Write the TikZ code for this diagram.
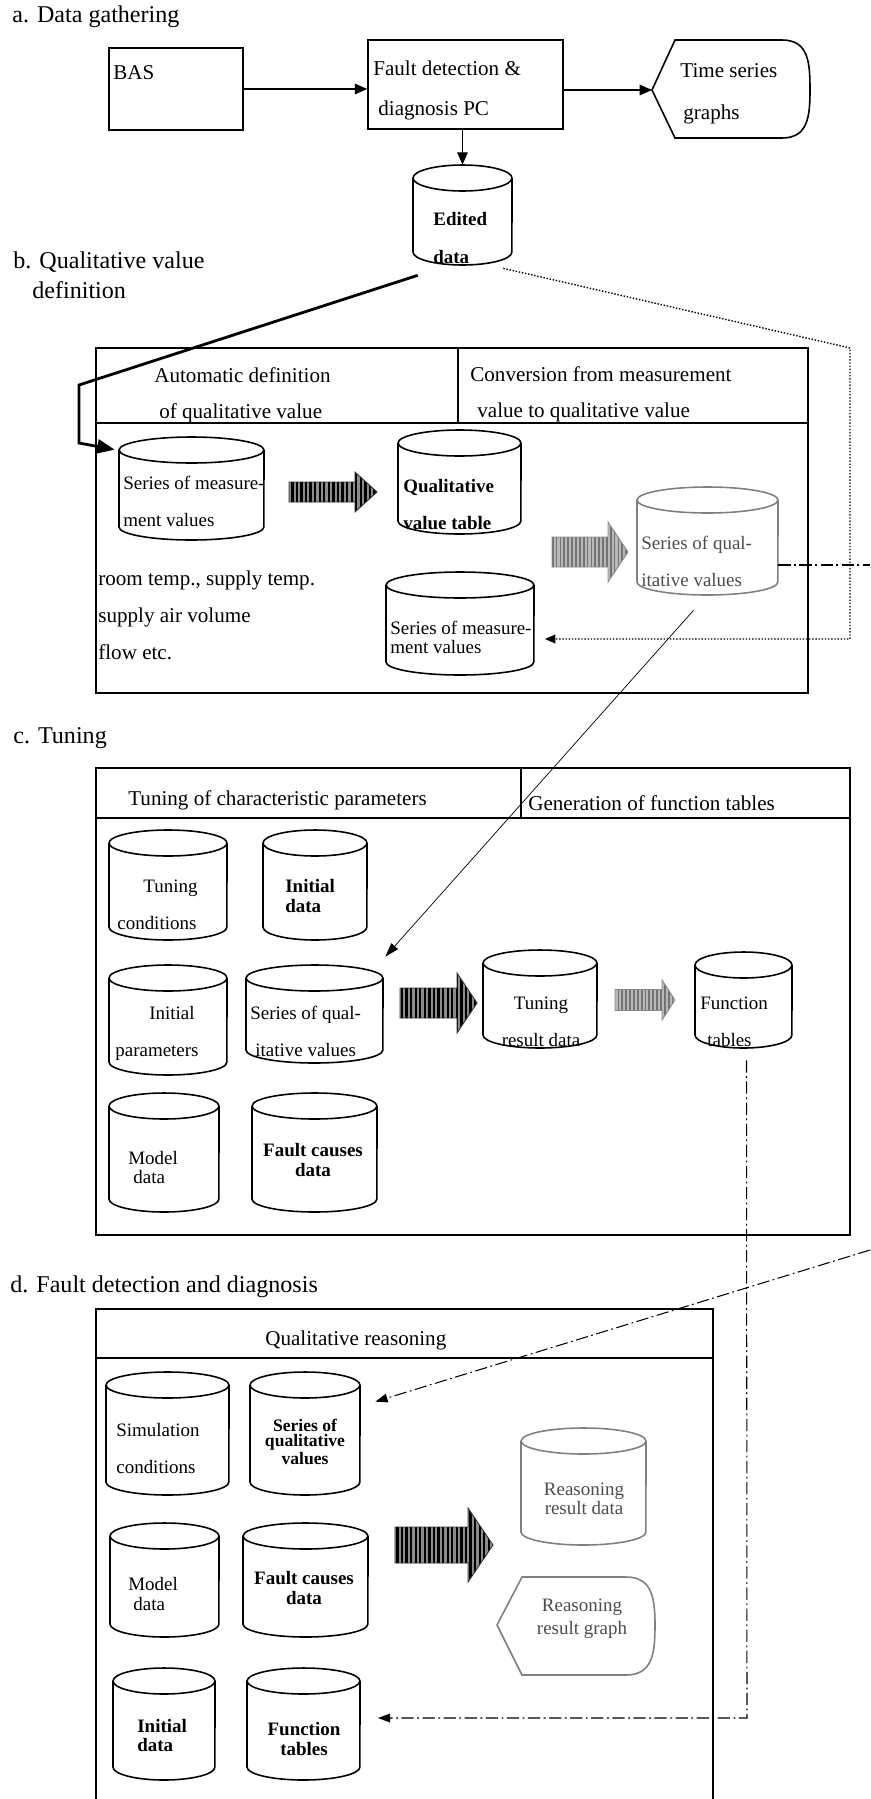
\documentclass[tikz,border=0pt]{standalone}
\usepackage{fontspec}
\setmainfont{Liberation Serif}
\usepackage{tikz}
\usetikzlibrary{positioning,fit,calc,arrows.meta,patterns.meta}

\tikzstyle{frame}=[draw=black,line width=0.9pt]
\tikzstyle{conn}=[-{Triangle[length=7pt,width=6pt]},line width=0.6pt]
\tikzstyle{thick conn}=[-{Triangle[length=10pt,width=8pt]},line width=1.6pt]
\tikzstyle{thin conn}=[-{Triangle[length=8pt,width=5pt]},line width=0.4pt]
\tikzstyle{dot conn}=[-{Triangle[length=6pt,width=5pt]},densely dotted,line width=0.8pt]
\tikzstyle{dashdot}=[line width=0.6pt,dash pattern=on 7pt off 2pt on 1pt off 2pt]
\tikzstyle{dashdot conn}=[dashdot,-{Triangle[length=7pt,width=5pt]}]
\tikzset{
  stripe dark/.style={draw=black!80,line width=0.5pt,preaction={fill=black!45},
    pattern={Lines[angle=90,distance=2.6pt,line width=1.3pt]},pattern color=black},
  stripe light/.style={draw=gray!90,line width=0.5pt,preaction={fill=gray!55},
    pattern={Lines[angle=90,distance=2.2pt,line width=1pt]},pattern color=gray!90!black},
  sect/.style={inner sep=0pt,anchor=west,align=left,font=\fontsize{13.7}{17}\selectfont},
  head/.style={inner sep=0pt,anchor=west,align=left,font=\fontsize{12}{20.5}\selectfont},
  plain/.style={inner sep=0pt,anchor=west,align=left,font=\fontsize{12}{21}\selectfont},
  wide/.style={inner sep=0pt,anchor=west,align=left,font=\fontsize{10.8}{21}\selectfont},
  wideb/.style={wide,font=\fontsize{10.8}{21}\selectfont\bfseries},
  tight/.style={inner sep=0pt,anchor=west,align=left,font=\fontsize{10.8}{11}\selectfont},
  tightb/.style={tight,font=\fontsize{10.8}{11}\selectfont\bfseries},
}
% data store: [colour]{name}{left}{top}{right}{bottom}, in pixels
\newcommand*{\datastore}[6][black]{%
    \path (#3,-#4) coordinate (#2 nw) (#5,-#6) coordinate (#2 se);
    \node [fit={(#2 nw) (#2 se)},inner sep=0pt] (#2) {};
    \draw [line width=0.9pt,draw=#1] ({(#3+#5)/2},-#4-13) ellipse [x radius={(#5-#3)*0.01cm},y radius=0.26cm];
    \draw [line width=0.9pt,draw=#1] (#3,-#4-13) -- (#3,-#6+13)
        arc [start angle=180,end angle=360,x radius={(#5-#3)*0.01cm},y radius=0.26cm] -- (#5,-#4-13);
}
% block arrow: {style}{x start}{head x}{tip x}{y}{shaft half}{head half}
\newcommand*{\flowarrow}[7]{%
    \draw [#1] (#2,-#5+#6) -- (#3,-#5+#6) -- (#3,-#5+#7) -- (#4,-#5)
        -- (#3,-#5-#7) -- (#3,-#5-#6) -- (#2,-#5-#6) -- cycle;
}

\begin{document}
\begin{tikzpicture}[x=0.02cm,y=0.02cm]
    \useasboundingbox (0,0) rectangle (870,-1799);

    % a. data gathering
    \node [sect] (ta) at (12,-17) {a. Data gathering};
    \node [frame,fit={(109,-48) (243,-130)},inner sep=0pt] (BAS) {};
    \node [plain] (BAS txt) at (113,-73) {BAS};
    \node [frame,fit={(368,-40) (563,-129)},inner sep=0pt] (FDD) {};
    \node [plain,font=\fontsize{12}{22.8}\selectfont] (FDD txt) at (373,-90) {Fault detection \&\\\hspace*{0.1cm}diagnosis PC};
    \coordinate (TSG tip) at (652,-90);
    \draw [frame] (TSG tip) -- (675,-40) -- (782,-40) to[out=0,in=90,looseness=1.2] (810,-90)
        to[out=-90,in=0,looseness=1.2] (782,-138) -- (675,-138) -- cycle;
    \node [plain,font=\fontsize{12}{24}\selectfont] (TSG txt) at (680,-94) {Time series\\\hspace*{0.06cm}graphs};
    \datastore{Edited}{413}{165}{512}{265}
    \node [wideb,font=\fontsize{10.8}{21.6}\selectfont\bfseries] (Edited txt) at (433,-238) {Edited\\data};

    \draw [conn] (BAS.east) -- (BAS.east -| FDD.west);
    \draw [conn] (FDD.east |- TSG tip) -- (TSG tip);
    \draw [conn] (Edited.north |- FDD.south) -- (Edited.north);

    % b. qualitative value definition
    \node [sect] (tb) at (13,-275) {b. Qualitative value\\\hspace*{0.38cm}definition};
    \draw [frame] (96,-348) rectangle (808,-693);
    \draw [frame] (96,-423) -- (808,-423);
    \draw [frame] (458,-348) -- (458,-423);
    \node [head] (hb1) at (154,-395) {Automatic definition\\\hspace*{0.1cm}of qualitative value};
    \node [head] (hb2) at (470,-394.5) {Conversion from measurement\\\hspace*{0.14cm}value to qualitative value};

    \datastore{SMV1}{119}{437}{264}{540}
    \node [wide] (SMV1 txt) at (123,-501.5) {Series of measure-\\ment values};
    \datastore{QVT}{398}{430}{521}{534}
    \node [wideb] (QVT txt) at (403,-504.5) {Qualitative\\value table};
    \datastore[gray]{SQVb}{637}{487}{778}{595}
    \node [wide,text=black!70] (SQVb txt) at (641,-561.5) {Series of qual-\\itative values};
    \datastore{SMV2}{386}{572}{534}{675}
    \node [tight,font=\fontsize{10.8}{10.8}\selectfont] (SMV2 txt) at (390,-637.5) {Series of measure-\\ment values};
    \node [plain] (btxt) at (98,-615) {room temp., supply temp.\\supply air volume\\flow etc.};

    \flowarrow{stripe dark}{289}{355}{377}{492}{10}{20}
    \flowarrow{stripe light}{552}{608}{628}{552}{15}{30}

    \coordinate (bend1) at (79,-385);
    \coordinate (bend2) at (79,-443);
    \draw [thick conn] ([shift={(5,-10)}]Edited.south west) -- (bend1) -- (bend2) -- ([shift={(-4,-13)}]SMV1.north west);
    \coordinate (dot1) at (850,-348);
    \coordinate (dot2) at (850,-639);
    \draw [dot conn] ([shift={(-9,-3)}]Edited.south east) -- (dot1) -- (dot2) -- ([xshift=6]SMV2.east |- dot2);
    \coordinate (edge b) at (870,-565);
    \draw [dashdot] (SQVb.east |- edge b) -- (edge b);

    % c. tuning
    \node [sect] (tc) at (13,-738) {c. Tuning};
    \draw [frame] (96,-768) rectangle (850,-1235);
    \draw [frame] (96,-818) -- (850,-818);
    \draw [frame] (521,-768) -- (521,-818);
    \node [head] (hc1) at (128,-800) {Tuning of characteristic parameters};
    \node [head] (hc2) at (528,-803) {Generation of function tables};

    \datastore{TC}{109}{830}{227}{940}
    \node [wide] (TC txt) at (117,-905) {\hspace*{0.52cm}Tuning\\conditions};
    \datastore{IDc}{263}{830}{367}{940}
    \node [tightb] (IDc txt) at (285,-896) {Initial\\data};
    \datastore{IP}{109}{965}{227}{1075}
    \node [wide] (IP txt) at (115,-1033.5) {\hspace*{0.68cm}Initial\\parameters};
    \datastore{SQVc}{246}{965}{383}{1063}
    \node [wide] (SQVc txt) at (250,-1031) {Series of qual-\\\hspace*{0.1cm}itative values};
    \datastore{MDc}{109}{1093}{219}{1212}
    \node [tight] (MDc txt) at (128,-1167.5) {Model\\\hspace*{0.1cm}data};
    \datastore{FCc}{252}{1093}{377}{1212}
    \node [tightb,anchor=center,align=center] (FCc txt) at (313,-1160) {Fault causes\\data};
    \datastore{TR}{483}{950}{597}{1048}
    \node [wide,anchor=center,align=center] (TR txt) at (541,-1021.5) {Tuning\\result data};
    \datastore{FTc}{695}{952}{792}{1048}
    \node [wide] (FTc txt) at (700,-1021.5) {Function\\\hspace*{0.14cm}tables};

    \flowarrow{stripe dark}{400}{457}{477}{1003}{15}{30}
    \flowarrow{stripe light}{615}{662}{675}{1000}{10.5}{20}

    \draw [thin conn] ([shift={(-14,-15)}]SQVb.south) -- ([shift={(2,8)}]SQVc.north east);

    % d. fault detection and diagnosis
    \node [sect] (td) at (10,-1287) {d. Fault detection and diagnosis};
    \draw [frame] (96,-1799) -- (96,-1309) -- (713,-1309) -- (713,-1799);
    \draw [frame] (96,-1358) -- (713,-1358);
    \node [head] (hd) at (265,-1340) {Qualitative reasoning};

    \datastore{SC}{106}{1372}{229}{1495}
    \node [wide] (SC txt) at (116,-1448.5) {Simulation\\conditions};
    \datastore{SQVd}{250}{1372}{360}{1495}
    \node [tightb,anchor=center,align=center,font=\fontsize{10}{8.8}\selectfont\bfseries] (SQVd txt) at (305,-1442) {Series of\\qualitative\\values};
    \datastore{MDd}{110}{1523}{219}{1637}
    \node [tight] (MDd txt) at (128,-1594) {Model\\\hspace*{0.1cm}data};
    \datastore{FCd}{243}{1523}{368}{1637}
    \node [tightb,anchor=center,align=center] (FCd txt) at (304,-1588) {Fault causes\\data};
    \datastore{IDd}{113}{1668}{215}{1780}
    \node [tightb] (IDd txt) at (137,-1735.5) {Initial\\data};
    \datastore{FTd}{247}{1668}{360}{1780}
    \node [tightb,anchor=center,align=center] (FTd txt) at (304,-1739) {Function\\tables};
    \datastore[gray]{RRD}{521}{1428}{646}{1545}
    \node [tight,anchor=center,align=center,text=black!70] (RRD txt) at (584,-1498.5) {Reasoning\\result data};
    \draw [frame,draw=gray] (497,-1625) -- (522,-1577) -- (626,-1577) to[out=0,in=90,looseness=1.2] (655,-1625)
        to[out=-90,in=0,looseness=1.2] (626,-1675) -- (522,-1675) -- cycle;
    \node [tight,anchor=center,align=center,text=black!70,font=\fontsize{10.8}{13}\selectfont] (RRG txt) at (582,-1618.5) {Reasoning\\result graph};

    \flowarrow{stripe dark}{395}{468}{493}{1545}{18}{37}

    \coordinate (ft corner) at (747,-1718);
    \draw [dashdot conn] ([shift={(3,-12)}]FTc.south) -- (ft corner) -- ([xshift=10]FTd.east |- ft corner);
    \coordinate (edge d) at (870,-1250);
    \draw [dashdot conn] (edge d) -- ([shift={(15,-30)}]SQVd.north east);
\end{tikzpicture}
\end{document}
